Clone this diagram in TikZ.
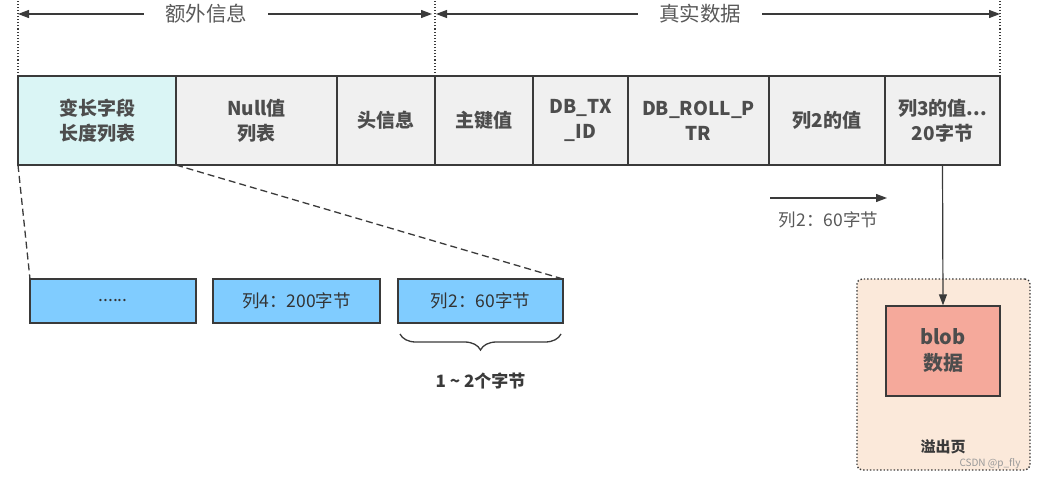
\documentclass[tikz,border=0pt]{standalone}
\usepackage{fontspec}
\setmainfont{Noto Sans CJK SC}
\usepackage{tikz}
\usetikzlibrary{arrows.meta, positioning, decorations.pathreplacing}
\definecolor{linegray}{HTML}{3A3A3A}
\definecolor{textgray}{HTML}{4D4D4D}
\definecolor{labelgray}{HTML}{595959}
\definecolor{cellgray}{HTML}{F0F0F0}
\definecolor{cyanfill}{HTML}{DAF5F5}
\definecolor{bluefill}{HTML}{80CCFF}
\definecolor{blobfill}{HTML}{F5A99B}
\definecolor{pagefill}{HTML}{FBE9DA}

\begin{document}
\begin{tikzpicture}[
    x=1pt, y=-1pt,
    cell/.style={draw=linegray, line width=1.4pt, fill=cellgray, minimum width=#1, minimum height=89pt, inner sep=0pt, outer sep=0pt, align=center, text=textgray, font=\fontsize{19}{25}\selectfont\bfseries},
    col/.style={draw=linegray, line width=1.4pt, fill=bluefill, minimum width=#1, minimum height=44pt, inner sep=0pt, outer sep=0pt, text=black!80, font=\fontsize{17.5}{20}\selectfont},
    toplabel/.style={inner xsep=21pt, text=labelgray, font=\fontsize{20.5}{24}\selectfont},
    guide/.style={dotted, line width=1.1pt, linegray},
    arr/.style={-{Triangle[length=11pt, width=8pt]}, line width=1.2pt, linegray},
    zoomline/.style={dashed, line width=1.3pt, dash pattern=on 7pt off 4pt, linegray}
]
\useasboundingbox (0,0) rectangle (1038,479);

% row of the record
\node[cell=158pt, fill=cyanfill, anchor=north west] (len) at (18,76) {变长字段\\长度列表};
\node[cell=161pt, right=0pt of len] (nul) {Null值\\列表};
\node[cell=98pt, right=0pt of nul] (head) {头信息};
\node[cell=98pt, right=0pt of head] (pk) {主键值};
\node[cell=95pt, right=0pt of pk] (trx) {DB\_TX\\\_ID};
\node[cell=141pt, right=0pt of trx] (roll) {DB\_ROLL\_P\\TR};
\node[cell=116pt, right=0pt of roll] (colb) {列2的值};
\node[cell=115pt, right=0pt of colb] (colc) {列3的值...\\20字节};

% top ranges
\draw[guide] (len.north west) -- ++(0,-76);
\draw[guide] (pk.north west) -- ++(0,-76);
\draw[guide] (colc.north east) -- ++(0,-76);
\coordinate (e0) at (18,14);
\coordinate (e1) at (432,14);
\coordinate (r0) at (436,14);
\coordinate (r1) at (1000,14);
\node[toplabel] (extra) at (206,14) {额外信息};
\node[toplabel] (real) at (700,14) {真实数据};
\draw[arr] (extra) -- (e0);
\draw[arr] (extra) -- (e1);
\draw[arr] (real) -- (r0);
\draw[arr] (real) -- (r1);

% length list, expanded
\node[col=166pt, anchor=north west] (c1) at (30,279) {......};
\node[col=167pt, right=17pt of c1] (c2) {列4：200字节};
\node[col=165pt, right=18pt of c2] (c3) {列2：60字节};
\draw[zoomline] (len.south west) -- (c1.north west);
\draw[zoomline] (len.south east) -- (c3.north east);
\draw[line width=1.3pt, linegray, decorate, decoration={brace, mirror, amplitude=16pt}]
    ([shift={(2,11)}]c3.south west) -- ([shift={(-2,11)}]c3.south east)
    node[midway, below=35pt, text=linegray, font=\fontsize{17}{20}\selectfont\bfseries] (bytes) {1 \textasciitilde{} 2个字节};

% column 2 read
\coordinate (w0) at (770,198);
\coordinate (w1) at (887,198);
\draw[arr] (w0) -- (w1) node[midway, below=10pt, text=labelgray, font=\fontsize{17.5}{20}\selectfont] (read) {列2：60字节};

% overflow page
\node[draw=linegray, dotted, line width=1.4pt, rounded corners=5pt, fill=pagefill, minimum width=173pt, minimum height=191pt] (page) at (943.5,374.5) {};
\node[draw=linegray, line width=1.4pt, fill=blobfill, minimum width=114pt, minimum height=90pt, align=center, text=textgray, font=\fontsize{20}{26}\selectfont\bfseries] (blob) at (943,351) {blob\\数据};
\node[text=linegray, font=\fontsize{15}{18}\selectfont\bfseries] (ovf) at (943,447) {溢出页};
\node[text=black!40, font=\fontsize{10}{12}\selectfont] (mark) at (990,464) {CSDN @p\_fly};
\draw[arr] (colc.south) -- (blob.north);
\end{tikzpicture}
\end{document}
